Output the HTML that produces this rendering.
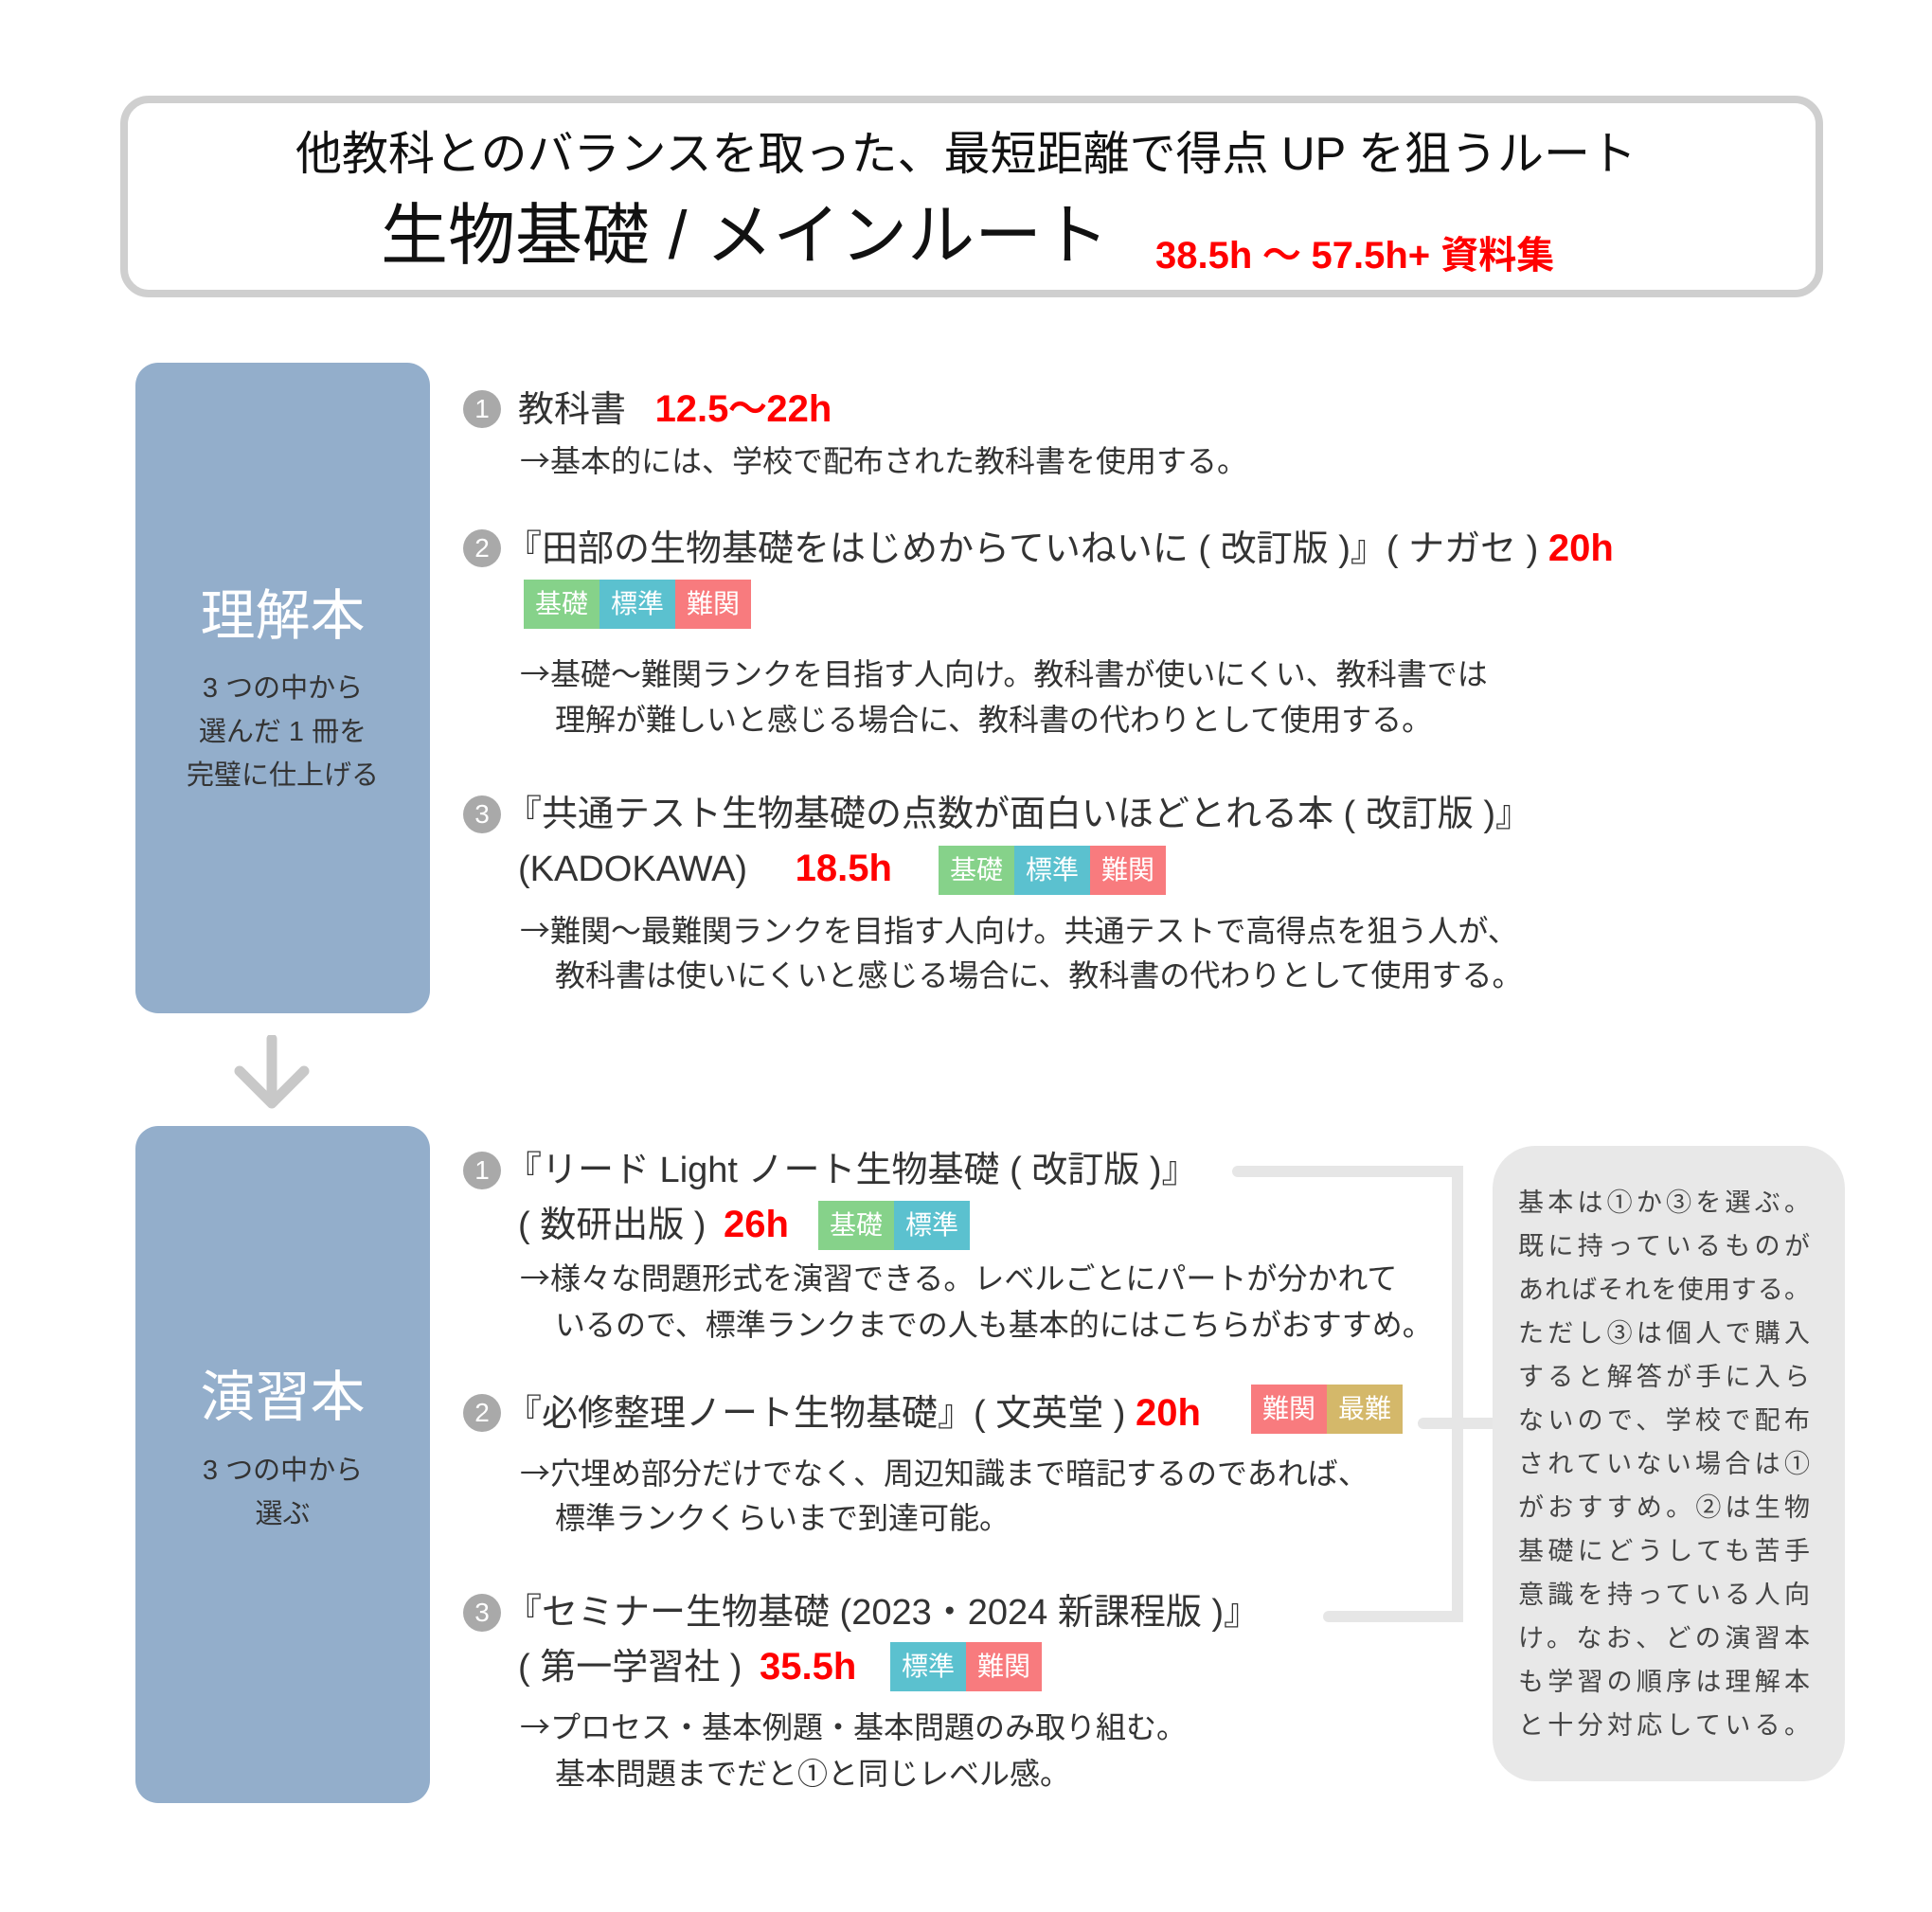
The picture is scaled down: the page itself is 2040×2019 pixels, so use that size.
<!DOCTYPE html>
<html><head><meta charset="utf-8"><style>
*{margin:0;padding:0;box-sizing:border-box}
body{width:2040px;height:2019px;background:#fff;position:relative;overflow:hidden;font-family:"Liberation Sans","Noto Sans CJK JP",sans-serif;color:#333}
.a{position:absolute;white-space:nowrap;line-height:60px;height:60px}
.tt{font-size:38px}
.d{font-size:32px}
.ar{font-family:"Noto Sans CJK JP",sans-serif}
.r{color:#f00;font-family:"Liberation Sans",sans-serif;font-weight:bold}
.c{position:absolute;width:40px;height:40px;border-radius:50%;background:#a9a9a9;color:#fff;font-size:28px;line-height:40px;text-align:center;font-family:"Liberation Sans",sans-serif}
.tags{position:absolute;display:flex;height:52px}
.tags span{width:80px;height:52px;line-height:52px;text-align:center;color:#fff;font-size:28px}
.g{background:#86d28a}.b{background:#5bc1cf}.p{background:#f87b7e}.y{background:#d4b86a}
.blue{position:absolute;left:143px;width:311px;background:#93aecb;border-radius:24px}
.bt{position:absolute;left:143px;width:311px;text-align:center;color:#fff;font-size:58px;line-height:70px}
.bs{position:absolute;left:143px;width:311px;text-align:center;color:#333;font-size:29px;line-height:46px}
.ln{position:absolute;background:#e6e6e6}
.side{position:absolute;left:1603px;width:308px;font-size:27px;line-height:46px;color:#444}
.side div{white-space:nowrap;text-align:justify;text-align-last:justify;height:46px}
</style></head><body>
<div style="position:absolute;left:127px;top:101px;width:1798px;height:213px;border:8px solid #cfcfcf;border-radius:30px"></div>
<div class="a" style="left:0;width:2040px;text-align:center;top:133px;font-size:49px;color:#111">他教科とのバランスを取った、最短距離で得点 UP を狙うルート</div>
<div class="a" style="left:402px;top:205px;height:90px;line-height:90px;font-size:71px;color:#111">生物基礎 / メインルート</div>
<div class="a r" style="left:1220px;top:236px;font-size:40px">38.5h ～ 57.5h+ <span style="font-family:'Noto Sans CJK JP',sans-serif">資料集</span></div>

<div class="blue" style="top:383px;height:687px"></div>
<div class="bt" style="top:616px">理解本</div>
<div class="bs" style="top:704px">3 つの中から<br>選んだ 1 冊を<br>完璧に仕上げる</div>
<svg style="position:absolute;left:245px;top:1093px" width="84" height="80"><path d="M42 4 V70 M8 38 L42 72 L76 38" stroke="#c8c8c8" stroke-width="11" fill="none" stroke-linecap="round" stroke-linejoin="round"/></svg>
<div class="blue" style="top:1189px;height:715px"></div>
<div class="bt" style="top:1441px">演習本</div>
<div class="bs" style="top:1530px">3 つの中から<br>選ぶ</div>

<!-- section1 -->
<div class="c" style="left:489px;top:412px">1</div>
<div class="a tt" style="left:547px;top:402px">教科書 <span class="r" style="margin-left:20px;font-size:40px">12.5～22h</span></div>
<div class="a d" style="left:549px;top:455px"><span class="ar">→</span>基本的には、学校で配布された教科書を使用する。</div>

<div class="c" style="left:489px;top:559px">2</div>
<div class="a tt" style="left:534px;top:549px">『田部の生物基礎をはじめからていねいに ( 改訂版 )』( ナガセ ) <span class="r" style="font-size:40px">20h</span></div>
<div class="tags" style="left:553px;top:612px"><span class="g">基礎</span><span class="b">標準</span><span class="p">難関</span></div>
<div class="a d" style="left:549px;top:680px"><span class="ar">→</span>基礎～難関ランクを目指す人向け。教科書が使いにくい、教科書では</div>
<div class="a d" style="left:586px;top:730px">理解が難しいと感じる場合に、教科書の代わりとして使用する。</div>

<div class="c" style="left:489px;top:840px">3</div>
<div class="a tt" style="left:534px;top:830px">『共通テスト生物基礎の点数が面白いほどとれる本 ( 改訂版 )』</div>
<div class="a tt" style="left:547px;top:887px">(KADOKAWA) <span class="r" style="margin-left:40px;font-size:40px">18.5h</span></div>
<div class="tags" style="left:991px;top:893px"><span class="g">基礎</span><span class="b">標準</span><span class="p">難関</span></div>
<div class="a d" style="left:549px;top:951px"><span class="ar">→</span>難関～最難関ランクを目指す人向け。共通テストで高得点を狙う人が、</div>
<div class="a d" style="left:586px;top:1000px">教科書は使いにくいと感じる場合に、教科書の代わりとして使用する。</div>

<!-- section2 -->
<div class="c" style="left:489px;top:1216px">1</div>
<div class="a tt" style="left:534px;top:1206px">『リード Light ノート生物基礎 ( 改訂版 )』</div>
<div class="a tt" style="left:547px;top:1263px">( 数研出版 ) <span class="r" style="font-size:40px;margin-left:8px">26h</span></div>
<div class="tags" style="left:864px;top:1268px"><span class="g">基礎</span><span class="b">標準</span></div>
<div class="a d" style="left:549px;top:1318px"><span class="ar">→</span>様々な問題形式を演習できる。レベルごとにパートが分かれて</div>
<div class="a d" style="left:586px;top:1369px">いるので、標準ランクまでの人も基本的にはこちらがおすすめ。</div>

<div class="c" style="left:489px;top:1472px">2</div>
<div class="a tt" style="left:534px;top:1462px">『必修整理ノート生物基礎』( 文英堂 ) <span class="r" style="font-size:40px">20h</span></div>
<div class="tags" style="left:1321px;top:1462px"><span class="p">難関</span><span class="y">最難</span></div>
<div class="a d" style="left:549px;top:1524px"><span class="ar">→</span>穴埋め部分だけでなく、周辺知識まで暗記するのであれば、</div>
<div class="a d" style="left:586px;top:1573px">標準ランクくらいまで到達可能。</div>

<div class="c" style="left:489px;top:1683px">3</div>
<div class="a tt" style="left:534px;top:1673px">『セミナー生物基礎 (2023・2024 新課程版 )』</div>
<div class="a tt" style="left:547px;top:1730px">( 第一学習社 ) <span class="r" style="font-size:40px;margin-left:8px">35.5h</span></div>
<div class="tags" style="left:940px;top:1734px"><span class="b">標準</span><span class="p">難関</span></div>
<div class="a d" style="left:549px;top:1792px"><span class="ar">→</span>プロセス・基本例題・基本問題のみ取り組む。</div>
<div class="a d" style="left:586px;top:1843px">基本問題までだと①と同じレベル感。</div>

<!-- connectors -->
<div class="ln" style="left:1301px;top:1231px;width:244px;height:12px;border-radius:6px"></div>
<div class="ln" style="left:1533px;top:1231px;width:12px;height:482px"></div>
<div class="ln" style="left:1397px;top:1701px;width:148px;height:12px;border-radius:6px"></div>
<div class="ln" style="left:1497px;top:1497px;width:85px;height:12px;border-radius:6px"></div>

<div style="position:absolute;left:1576px;top:1210px;width:372px;height:671px;background:#e8e8e8;border-radius:45px"></div>
<div class="side" style="top:1247px">
<div>基本は①か③を選ぶ。</div><div>既に持っているものが</div><div>あればそれを使用する。</div><div>ただし③は個人で購入</div><div>すると解答が手に入ら</div><div>ないので、学校で配布</div><div>されていない場合は①</div><div>がおすすめ。②は生物</div><div>基礎にどうしても苦手</div><div>意識を持っている人向</div><div>け。なお、どの演習本</div><div>も学習の順序は理解本</div><div>と十分対応している。</div>
</div>
</body></html>
